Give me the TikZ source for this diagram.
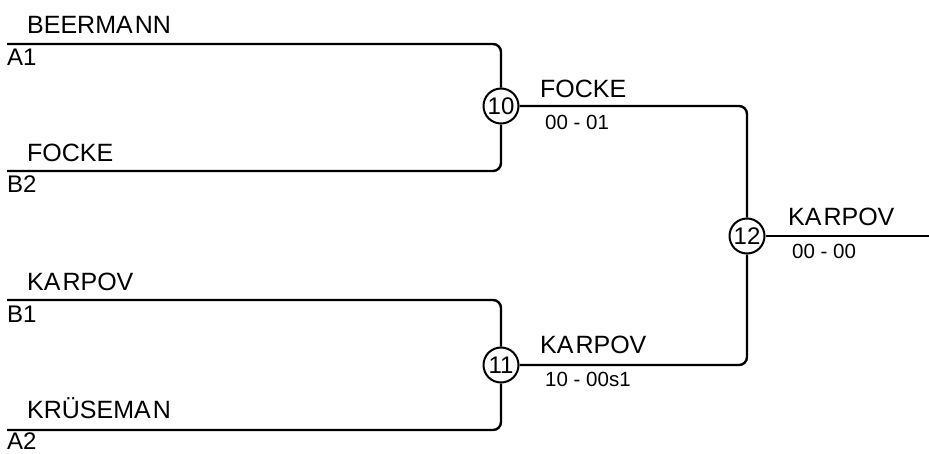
\documentclass[tikz,border=0pt]{standalone}
\usepackage{fontspec}
\setmainfont{Liberation Sans}
\begin{document}
\begin{tikzpicture}[x=1pt,y=-1pt,
  bline/.style={line width=2.4pt,rounded corners=8pt},
  mnode/.style={circle,draw,line width=2pt,minimum size=35pt,inner sep=0pt,font=\fontsize{24}{24}\selectfont},
  pname/.style={anchor=base west,inner sep=0pt,font=\fontsize{25}{25}\selectfont},
  pcode/.style={anchor=base west,inner sep=0pt,font=\fontsize{24}{24}\selectfont},
  pscore/.style={anchor=base west,inner sep=0pt,font=\fontsize{20.5}{20.5}\selectfont}]
\useasboundingbox (0,0) rectangle (929,453);
% start coordinates
\coordinate (sA) at (7,44);
\coordinate (sB) at (7,171);
\coordinate (sC) at (7,300);
\coordinate (sD) at (7,430);
\coordinate (out) at (929,236);
% match nodes
\node[mnode] (c10) at (501,106) {10};
\node[mnode] (c11) at (501,365) {11};
\node[mnode] (c12) at (747,236) {12};
% connectors
\draw[bline] (sA) -| (c10);
\draw[bline] (sB) -| (c10);
\draw[bline] (sC) -| (c11);
\draw[bline] (sD) -| (c11);
\draw[bline] (c10) -| (c12);
\draw[bline] (c11) -| (c12);
\draw[bline] (c12) -- (out);
% names
\node[pname] (nA) at (27,33) {BEERMA\kern2pt NN};
\node[pcode] (kA) at (7,65) {A1};
\node[pname] (nB) at (27,161) {FOCKE};
\node[pcode] (kB) at (7,192) {B2};
\node[pname] (nC) at (27,290) {KA\kern2pt RPOV};
\node[pcode] (kC) at (7,322) {B1};
\node[pname] (nD) at (27,418) {KRÜSEMA\kern2pt N};
\node[pcode] (kD) at (7,449) {A2};
\node[pname] (w10) at (540,97) {FOCKE};
\node[pscore] (s10) at (545,129) {00 - 01};
\node[pname] (w11) at (540,353) {KA\kern2pt RPOV};
\node[pscore] (s11) at (545,386) {10 - 00s1};
\node[pname] (w12) at (788,225) {KA\kern2pt RPOV};
\node[pscore] (s12) at (792,258) {00 - 00};
\end{tikzpicture}
\end{document}
